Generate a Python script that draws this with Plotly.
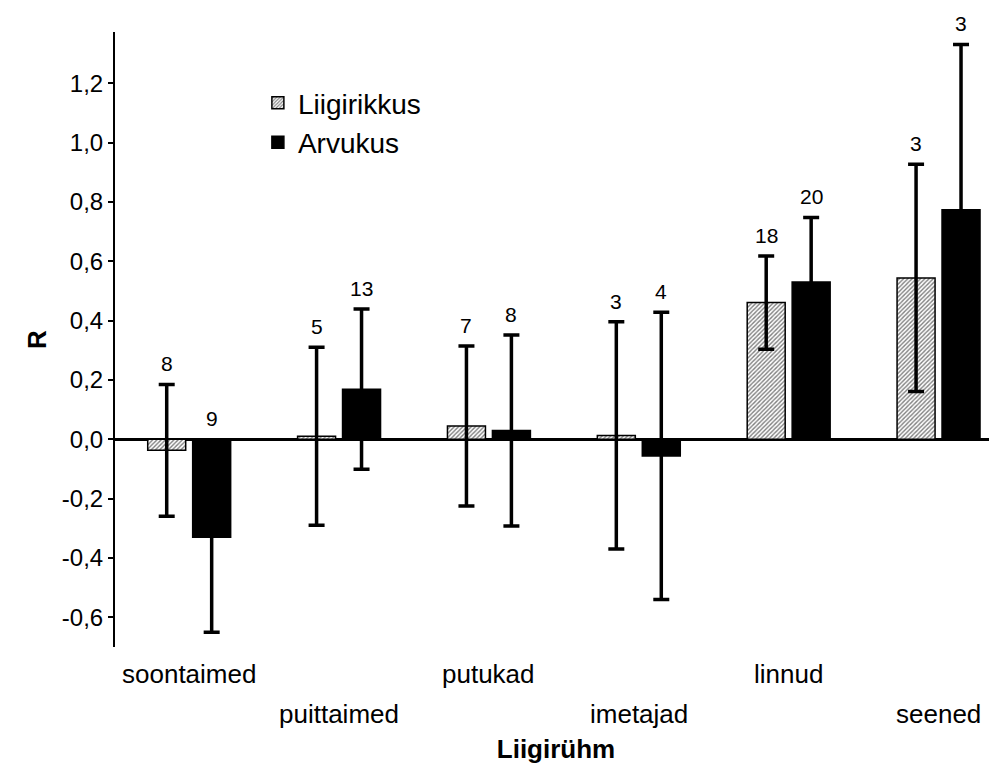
import plotly.graph_objects as go

categories = ["soontaimed", "puittaimed", "putukad", "imetajad", "linnud", "seened"]
liigirikkus = [-0.037, 0.010, 0.045, 0.013, 0.461, 0.544]
liigirikkus_err = [0.222, 0.300, 0.270, 0.383, 0.157, 0.383]
liigirikkus_n = ["8", "5", "7", "3", "18", "3"]
arvukus = [-0.330, 0.169, 0.030, -0.056, 0.530, 0.774]
arvukus_err = [0.320, 0.270, 0.322, 0.484, 0.218, 0.557]
arvukus_n = ["9", "13", "8", "4", "20", "3"]
yticks = [-0.6, -0.4, -0.2, 0.0, 0.2, 0.4, 0.6, 0.8, 1.0, 1.2]
yticktext = [f"{v:.1f}".replace(".", ",") for v in yticks]

FONT = "Liberation Sans, Arial, sans-serif"
xpos = list(range(len(categories)))

fig = go.Figure()
fig.add_trace(go.Bar(
    x=xpos, y=liigirikkus, name="Liigirikkus",
    marker=dict(color="white", line=dict(color="black", width=1.5),
                pattern=dict(shape="/", size=3, solidity=0.45, fgcolor="black", bgcolor="white")),
    error_y=dict(type="data", array=liigirikkus_err, visible=True, color="black", thickness=3.5, width=8),
))
fig.add_trace(go.Bar(
    x=xpos, y=arvukus, name="Arvukus",
    marker=dict(color="black", line=dict(color="black", width=1.5)),
    error_y=dict(type="data", array=arvukus_err, visible=True, color="black", thickness=3.5, width=8),
))

annotations = []
for i in xpos:
    for off, vals, errs, ns in ((-0.15, liigirikkus, liigirikkus_err, liigirikkus_n),
                                (0.15, arvukus, arvukus_err, arvukus_n)):
        top = max(vals[i] + errs[i], 0.0)
        annotations.append(dict(x=i + off, y=top, text=ns[i], showarrow=False,
                                xref="x", yref="y", yanchor="bottom", yshift=7,
                                font=dict(family=FONT, size=21, color="black")))
# staggered category labels
for i, c in enumerate(categories):
    annotations.append(dict(x=i, y=0, xref="x", yref="paper", text=c, showarrow=False,
                            yanchor="top", yshift=-10 if i % 2 == 0 else -50,
                            font=dict(family=FONT, size=26, color="black")))

fig.update_layout(
    width=997, height=775,
    margin=dict(l=107, r=8, t=24, b=136),
    paper_bgcolor="white", plot_bgcolor="white",
    barmode="group", bargap=0.4, bargroupgap=0.155,
    font=dict(family=FONT, size=22, color="black"),
    showlegend=True,
    legend=dict(x=0.162, y=0.925, xanchor="left", yanchor="top",
                font=dict(family=FONT, size=28, color="black"),
                bgcolor="rgba(0,0,0,0)"),
    annotations=annotations,
)
fig.update_xaxes(range=[-0.495, 5.39], showticklabels=False, ticks="", showgrid=False,
                 zeroline=False, showline=False,
                 title=dict(text="<b>Liigirühm</b>", font=dict(family=FONT, size=26), standoff=92))
fig.update_yaxes(range=[-0.70, 1.373], tickvals=yticks, ticktext=yticktext,
                 ticks="outside", ticklen=5, tickwidth=1.5, tickcolor="black",
                 showline=True, linecolor="black", linewidth=2,
                 showgrid=False, zeroline=True, zerolinecolor="black", zerolinewidth=3,
                 tickfont=dict(family=FONT, size=24),
                 title=dict(text="<b>R</b>", font=dict(family=FONT, size=26), standoff=8))

fig.write_html("out.html")
